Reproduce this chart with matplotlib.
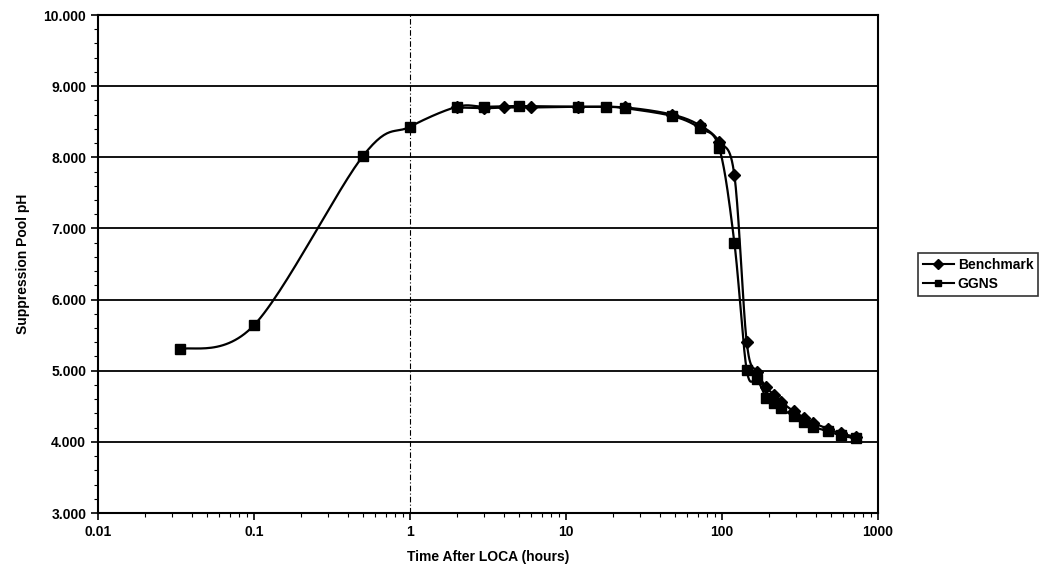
import matplotlib
matplotlib.use('Agg')
import matplotlib.pyplot as plt
import matplotlib.ticker as mtick
import numpy as np

plt.rcParams['font.family'] = ['Liberation Sans', 'DejaVu Sans']

# Benchmark series (hours, pH)
bench_t = [2, 3, 4, 6, 12, 24, 48, 72, 96, 120, 144, 168, 192, 216, 240,
           288, 336, 384, 480, 576, 720]
bench_ph = [8.70, 8.69, 8.70, 8.70, 8.71, 8.70, 8.60, 8.45, 8.22, 7.75, 5.40,
            4.98, 4.77, 4.66, 4.56, 4.43, 4.34, 4.27, 4.18, 4.12, 4.07]

# GGNS series
ggns_t = [0.0333, 0.1, 0.5, 1, 2, 3, 5, 12, 18, 24, 48, 72, 96, 120, 144,
          168, 192, 216, 240, 288, 336, 384, 480, 576, 720]
ggns_ph = [5.30, 5.64, 8.02, 8.43, 8.71, 8.71, 8.72, 8.71, 8.71, 8.69, 8.58,
           8.41, 8.13, 6.80, 5.01, 4.88, 4.62, 4.55, 4.47, 4.36, 4.28, 4.21,
           4.15, 4.09, 4.05]

y_ticks = [3, 4, 5, 6, 7, 8, 9, 10]
x_ticks = [0.01, 0.1, 1, 10, 100, 1000]
x_labels = ['0.01', '0.1', '1', '10', '100', '1000']


def smooth(t, y, n=30):
    # Excel-style smoothed line: Catmull-Rom through the points in screen-like space
    u = np.log10(t) * 156.0
    v = np.asarray(y) * 71.1
    P = np.column_stack([u, v])
    P = np.vstack([P[0], P, P[-1]])
    out = []
    for i in range(1, len(P) - 2):
        p0, p1, p2, p3 = P[i - 1], P[i], P[i + 1], P[i + 2]
        c1 = p1 + (p2 - p0) / 6.0
        c2 = p2 - (p3 - p1) / 6.0
        s = np.linspace(0, 1, n)[:, None]
        seg = ((1 - s) ** 3) * p1 + 3 * ((1 - s) ** 2) * s * c1 + 3 * (1 - s) * s ** 2 * c2 + s ** 3 * p2
        out.append(seg)
    out = np.vstack(out)
    return 10 ** (out[:, 0] / 156.0), out[:, 1] / 71.1


fig = plt.figure(figsize=(10.45, 5.73), dpi=100)
ax = fig.add_axes([0.0938, 0.1047, 0.7464, 0.8691])

ax.set_xscale('log')
ax.set_xlim(0.01, 1000)
ax.set_ylim(3, 10)

for yv in y_ticks:
    ax.axhline(yv, color='black', lw=1.3, zorder=1)
ax.axvline(1, color='black', lw=0.8, linestyle=(0, (5, 2, 1, 2)), zorder=1)

bx, by = smooth(bench_t, bench_ph)
gx, gy = smooth(ggns_t, ggns_ph)
ax.plot(bx, by, color='black', lw=1.6, zorder=3)
ax.plot(gx, gy, color='black', lw=1.6, zorder=3)
ax.plot(bench_t, bench_ph, linestyle='none', marker='D', ms=6, color='black', zorder=4)
ax.plot(ggns_t, ggns_ph, linestyle='none', marker='s', ms=7, color='black', zorder=4)

# legend proxies
ax.plot([], [], color='black', lw=1.5, marker='D', ms=5, label='Benchmark')
ax.plot([], [], color='black', lw=1.5, marker='s', ms=5, label='GGNS')
h, l = ax.get_legend_handles_labels()
leg = fig.legend(h, l, loc='upper left', bbox_to_anchor=(0.872, 0.57),
                 frameon=True, fancybox=False, edgecolor='black',
                 prop={'size': 10, 'weight': 'bold'}, handlelength=2.2,
                 borderpad=0.35, labelspacing=0.35, handletextpad=0.3)
leg.get_frame().set_linewidth(1.2)

ax.set_yticks(y_ticks)
ax.yaxis.set_major_formatter(mtick.FormatStrFormatter('%.3f'))
ax.yaxis.set_minor_locator(mtick.MultipleLocator(0.2))
ax.set_xticks(x_ticks)
ax.set_xticklabels(x_labels)
ax.xaxis.set_minor_locator(mtick.LogLocator(base=10, subs=np.arange(2, 10)))
ax.xaxis.set_minor_formatter(mtick.NullFormatter())
ax.tick_params(axis='both', which='major', length=5, width=1.2, labelsize=10)
ax.tick_params(axis='both', which='minor', length=3, width=0.8)
for lab in ax.get_xticklabels() + ax.get_yticklabels():
    lab.set_fontweight('bold')

for s in ax.spines.values():
    s.set_linewidth(1.5)
    s.set_color('black')

ax.set_xlabel('Time After LOCA (hours)', fontsize=10, fontweight='bold', labelpad=8)
ax.set_ylabel('Suppression Pool pH', fontsize=10, fontweight='bold', labelpad=10)

plt.savefig('out.png', dpi=100)
